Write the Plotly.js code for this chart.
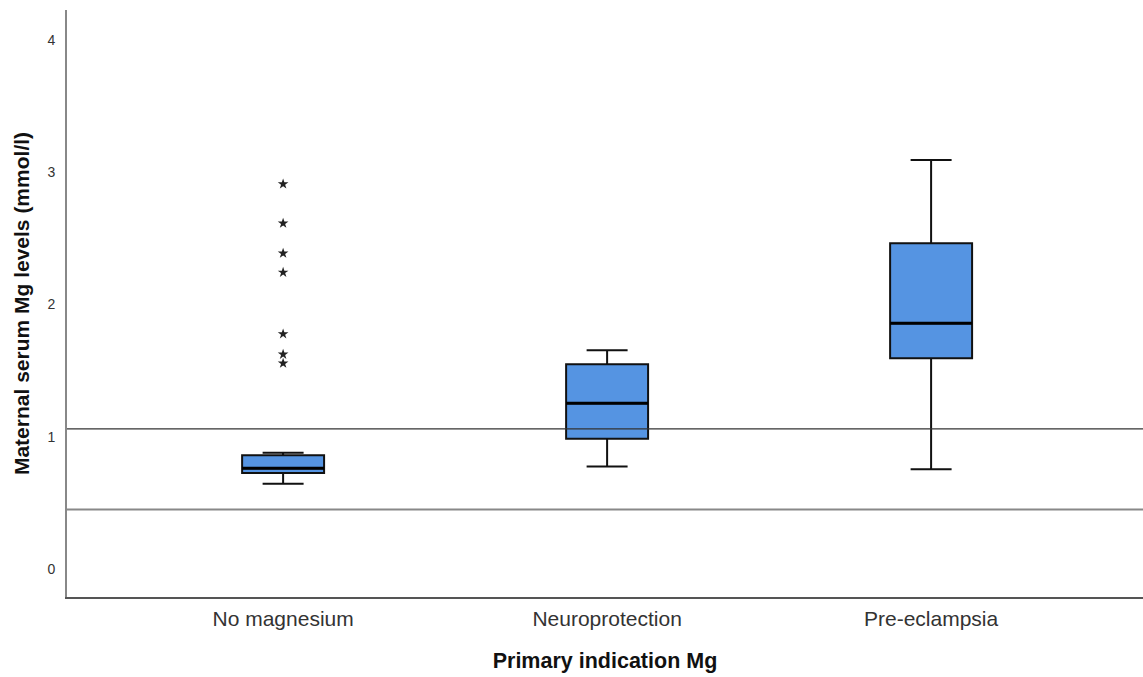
<!DOCTYPE html>
<html>
<head>
<meta charset="utf-8">
<script src="https://cdn.plot.ly/plotly-3.0.1.min.js"></script>
<style>html,body{margin:0;padding:0;background:#fff;}#chart{width:1143px;height:677px;}</style>
</head>
<body>
<div id="chart"></div>
<script>
// Data
const categories = ["No magnesium", "Neuroprotection", "Pre-eclampsia"];
const lowerWhisker = [0.645, 0.774, 0.754];
const q1Values = [0.726, 0.985, 1.593];
const medianValues = [0.762, 1.253, 1.858];
const q3Values = [0.860, 1.548, 2.463];
const upperWhisker = [0.879, 1.654, 3.093];
const outlierCategoryIndex = [0, 0, 0, 0, 0, 0, 0];
const outlierValues = [2.911, 2.614, 2.387, 2.243, 1.777, 1.623, 1.555];
const referenceLines = [1.06, 0.45];
const yTicks = [0, 1, 2, 3, 4];

const pos = categories.map((c, i) => i);
const boxW = 0.253;

const medX = [], medY = [];
pos.forEach((p, i) => { medX.push(p - boxW / 2, p + boxW / 2, null); medY.push(medianValues[i], medianValues[i], null); });

const traces = [
  {
    type: "box",
    x: pos,
    q1: q1Values,
    median: medianValues,
    q3: q3Values,
    lowerfence: lowerWhisker,
    upperfence: upperWhisker,
    width: boxW,
    whiskerwidth: 0.5,
    fillcolor: "#5594e2",
    line: { color: "#111", width: 2 },
    boxpoints: false,
    hoverinfo: "skip",
    showlegend: false
  },
  {
    type: "scatter",
    mode: "lines",
    x: medX,
    y: medY,
    line: { color: "#000", width: 3 },
    hoverinfo: "skip",
    showlegend: false
  },
  {
    type: "scatter",
    mode: "markers",
    x: outlierCategoryIndex.map(i => pos[i]),
    y: outlierValues,
    marker: { symbol: "star", size: 8, color: "#222" },
    hoverinfo: "skip",
    showlegend: false
  }
];

const shapes = referenceLines.map((v, i) => ({
  type: "line", xref: "paper", yref: "y", x0: 0, x1: 1, y0: v, y1: v,
  line: { color: i === 0 ? "#333" : "#888", width: i === 0 ? 1.2 : 2 },
  layer: "above"
}));

const layout = {
  width: 1143, height: 677,
  margin: { l: 67, r: 0, t: 10, b: 80 },
  paper_bgcolor: "#fff", plot_bgcolor: "#fff",
  font: { family: "Liberation Sans, Arial, sans-serif", color: "#222" },
  showlegend: false,
  shapes: shapes,
  xaxis: {
    range: [-0.667, 2.654],
    tickvals: pos, ticktext: categories,
    showgrid: false, zeroline: false,
    showline: true, linecolor: "#555", linewidth: 1.5,
    ticks: "", ticklabelstandoff: 2,
    tickfont: { size: 21, color: "#333" },
    title: { text: "<b>Primary indication Mg</b>", font: { size: 21.5, color: "#111" }, standoff: 24 }
  },
  yaxis: {
    range: [-0.212, 4.227],
    tickvals: yTicks,
    showgrid: false, zeroline: false,
    showline: true, linecolor: "#888", linewidth: 2,
    ticks: "", ticklabelstandoff: 7,
    tickfont: { size: 14, color: "#333" },
    title: { text: "<b>Maternal serum Mg levels (mmol/l)</b>", font: { size: 21, color: "#111" }, standoff: 12 }
  }
};

Plotly.newPlot("chart", traces, layout, { displayModeBar: false, staticPlot: true });
</script>
</body>
</html>
